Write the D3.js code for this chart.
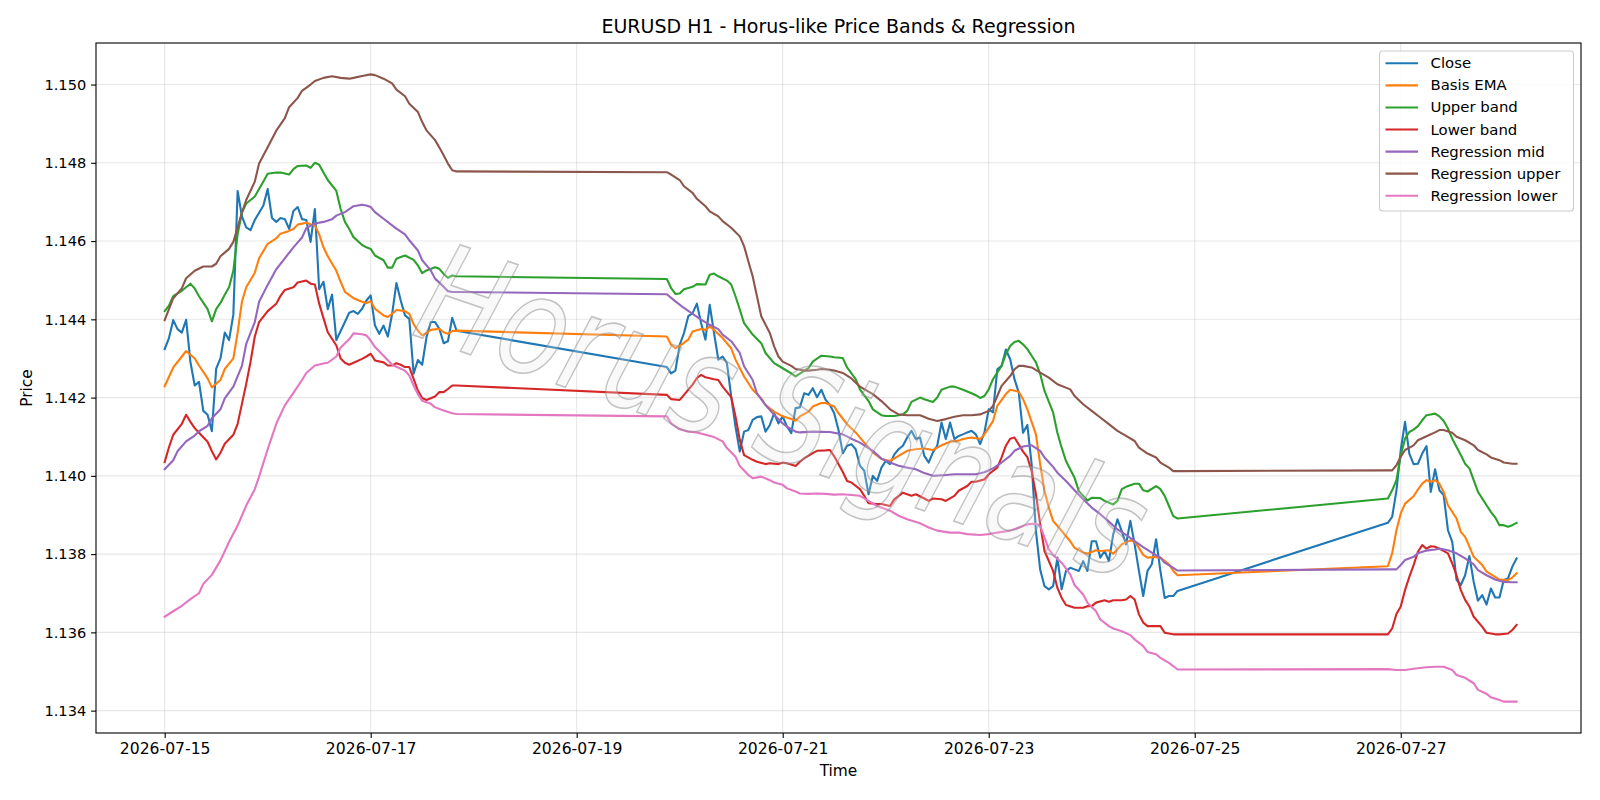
<!DOCTYPE html>
<html><head><meta charset="utf-8">
<script src="https://cdn.jsdelivr.net/npm/d3@7"></script>
<style>
body{margin:0;background:#fff}
svg{display:block}
text{font-family:"DejaVu Sans",sans-serif;fill:#000}
</style>
</head><body>
<svg id="chart" width="1600" height="800"></svg>
<script>
// ---------------- DATA ----------------
const startTime = "2026-07-15T00:00:00Z";   // hour 0 of every series
const titleText = "EURUSD H1 - Horus-like Price Bands & Regression";
const xLabelText = "Time";
const yLabelText = "Price";
const watermarkText = "Horus Signals";
const xTickDates = ["2026-07-15","2026-07-17","2026-07-19","2026-07-21","2026-07-23","2026-07-25","2026-07-27"];
const yTickValues = [1.134,1.136,1.138,1.140,1.142,1.144,1.146,1.148,1.150];
const seriesNames = ["Close","Basis EMA","Upper band","Lower band","Regression mid","Regression upper","Regression lower"];

// [hour since start, price]
const closeData = [[0,1.14324],[1,1.14352],[2,1.14398],[3,1.14375],[4,1.14366],[5,1.14399],[6,1.14291],[7,1.14231],[8,1.14240],[9,1.14166],[10,1.14156],[11,1.14114],[12,1.14274],[13,1.14300],[14,1.14366],[15,1.14347],[16,1.14412],[17,1.14728],[18,1.14663],[19,1.14635],[20,1.14628],[21,1.14654],[23,1.14691],[24,1.14733],[25,1.14659],[26,1.14649],[27,1.14659],[28,1.14656],[29,1.14631],[30,1.14677],[31,1.14687],[32,1.14656],[33,1.14654],[34,1.14598],[35,1.14682],[36,1.14477],[37,1.14496],[38,1.14426],[39,1.14463],[40,1.14347],[41,1.14370],[42,1.14393],[43,1.14417],[44,1.14421],[45,1.14414],[46,1.14427],[47,1.14448],[48,1.14461],[49,1.14384],[50,1.14363],[51,1.14384],[52,1.14356],[53,1.14414],[54,1.14493],[55,1.14448],[56,1.14410],[57,1.14401],[58,1.14261],[59,1.14296],[60,1.14284],[61,1.14354],[62,1.14393],[63,1.14393],[64,1.14376],[65,1.14339],[66,1.14344],[67,1.14404],[68,1.14371],
[117,1.14278],[118,1.14262],[119,1.14269],[120,1.14335],[121,1.14365],[122,1.14408],[123,1.14416],[124,1.14440],[125,1.14390],[126,1.14348],[127,1.14437],[128,1.14365],[129,1.14297],[130,1.14305],[131,1.14288],[132,1.14203],[133,1.14126],[134,1.14062],[135,1.14113],[136,1.14117],[137,1.14143],[138,1.14150],[139,1.14152],[140,1.14113],[141,1.14130],[142,1.14160],[143,1.14134],[144,1.14152],[145,1.14126],[146,1.14109],[147,1.14173],[148,1.14175],[149,1.14211],[150,1.14207],[151,1.14224],[152,1.14201],[153,1.14220],[154,1.14194],[155,1.14181],[156,1.14160],[157,1.14117],[158,1.14058],[159,1.14077],[160,1.14081],[161,1.14068],[162,1.14026],[163,1.14013],[164,1.13953],[165,1.14000],[166,1.13987],[167,1.14021],[168,1.14038],[169,1.14030],[170,1.14055],[171,1.14068],[172,1.14077],[173,1.14098],[174,1.14115],[175,1.14094],[176,1.14098],[177,1.14051],[178,1.14034],[179,1.14060],[180,1.14077],[181,1.14136],[182,1.14094],[183,1.14136],[184,1.14094],[185,1.14102],[186,1.14106],[187,1.14111],[188,1.14115],[189,1.14106],[190,1.14081],[191,1.14111],[192,1.14170],[193,1.14162],[194,1.14272],[195,1.14281],[196,1.14323],[197,1.14298],[198,1.14247],[199,1.14213],[200,1.14110],[201,1.14130],[202,1.14030],[203,1.13859],[204,1.13760],[205,1.13718],[206,1.13710],[207,1.13718],[208,1.13791],[209,1.13710],[210,1.13757],[211,1.13765],[212,1.13761],[213,1.13757],[214,1.13782],[215,1.13757],[216,1.13833],[217,1.13833],[218,1.13791],[219,1.13808],[220,1.13782],[221,1.13850],[222,1.13889],[223,1.13859],[224,1.13825],[225,1.13885],[226,1.13825],[227,1.13757],[228,1.13693],[229,1.13757],[230,1.13774],[231,1.13838],[232,1.13757],[233,1.13688],[234,1.13693],[235,1.13693],[236,1.13706],
[285,1.13880],[286,1.13895],[287,1.13963],[288,1.14066],[289,1.14138],[290,1.14057],[291,1.14030],[292,1.14031],[293,1.14057],[294,1.14076],[295,1.13959],[296,1.14017],[297,1.13963],[298,1.13951],[299,1.13861],[300,1.13831],[301,1.13734],[302,1.13721],[303,1.13746],[304,1.13795],[305,1.13729],[306,1.13681],[307,1.13695],[308,1.13671],[309,1.13712],[310,1.13689],[311,1.13689],[312,1.13734],[313,1.13738],[314,1.13768],[315,1.13789]];

const basisData = [[0,1.14229],[2,1.14277],[4,1.14305],[5,1.14319],[7,1.14300],[8,1.14282],[10,1.14249],[11,1.14226],[13,1.14245],[14,1.14273],[16,1.14300],[17,1.14366],[18,1.14445],[19,1.14482],[21,1.14519],[22,1.14556],[24,1.14593],[26,1.14607],[27,1.14619],[29,1.14626],[30,1.14631],[31,1.14642],[33,1.14647],[34,1.14643],[35,1.14640],[36,1.14617],[37,1.14584],[38,1.14561],[40,1.14524],[41,1.14496],[42,1.14470],[44,1.14454],[46,1.14445],[47,1.14442],[48,1.14446],[49,1.14427],[51,1.14410],[52,1.14406],[53,1.14414],[54,1.14424],[56,1.14421],[57,1.14414],[58,1.14388],[59,1.14371],[60,1.14359],[61,1.14365],[62,1.14373],[64,1.14376],[65,1.14367],[66,1.14363],[67,1.14370],[68,1.14371],
[117,1.14356],[118,1.14335],[119,1.14326],[120,1.14332],[122,1.14348],[123,1.14369],[125,1.14375],[126,1.14373],[127,1.14382],[128,1.14373],[130,1.14352],[132,1.14326],[133,1.14297],[135,1.14254],[137,1.14220],[139,1.14198],[140,1.14181],[142,1.14164],[144,1.14152],[146,1.14145],[147,1.14141],[148,1.14152],[150,1.14164],[151,1.14177],[153,1.14186],[154,1.14186],[156,1.14177],[157,1.14160],[159,1.14132],[161,1.14111],[163,1.14085],[165,1.14060],[167,1.14043],[169,1.14038],[171,1.14051],[173,1.14064],[175,1.14068],[177,1.14070],[179,1.14066],[181,1.14078],[183,1.14087],[185,1.14090],[186,1.14094],[188,1.14098],[190,1.14094],[191,1.14106],[193,1.14140],[194,1.14179],[196,1.14209],[197,1.14220],[199,1.14215],[200,1.14196],[201,1.14170],[203,1.14106],[204,1.14029],[205,1.13961],[206,1.13919],[207,1.13885],[209,1.13859],[211,1.13833],[212,1.13816],[214,1.13804],[215,1.13801],[217,1.13810],[218,1.13808],[220,1.13810],[221,1.13801],[222,1.13812],[223,1.13825],[225,1.13835],[226,1.13832],[227,1.13816],[228,1.13798],[229,1.13791],[231,1.13793],[232,1.13791],[234,1.13774],[235,1.13757],[236,1.13746],
[285,1.13769],[286,1.13802],[287,1.13861],[288,1.13904],[289,1.13929],[291,1.13948],[292,1.13965],[293,1.13980],[294,1.13989],[295,1.13985],[296,1.13989],[297,1.13980],[298,1.13959],[299,1.13925],[301,1.13891],[302,1.13857],[303,1.13844],[304,1.13819],[305,1.13793],[307,1.13772],[308,1.13755],[310,1.13742],[311,1.13735],[313,1.13734],[314,1.13740],[315,1.13751]];

const upperData = [[0,1.14421],[1,1.14435],[2,1.14459],[4,1.14473],[5,1.14482],[6,1.14491],[7,1.14479],[8,1.14459],[10,1.14426],[11,1.14395],[12,1.14426],[13,1.14442],[14,1.14463],[15,1.14482],[16,1.14524],[17,1.14617],[18,1.14673],[19,1.14696],[21,1.14714],[22,1.14733],[23,1.14752],[24,1.14772],[26,1.14775],[27,1.14775],[29,1.14770],[30,1.14784],[31,1.14792],[33,1.14793],[34,1.14787],[35,1.14800],[36,1.14795],[37,1.14775],[38,1.14756],[40,1.14728],[41,1.14682],[42,1.14649],[43,1.14631],[44,1.14610],[46,1.14590],[47,1.14584],[48,1.14580],[49,1.14563],[51,1.14551],[52,1.14532],[53,1.14532],[54,1.14555],[55,1.14559],[56,1.14563],[58,1.14552],[59,1.14538],[60,1.14518],[61,1.14525],[63,1.14533],[64,1.14529],[65,1.14516],[66,1.14506],[67,1.14512],[68,1.14510],
[117,1.14503],[118,1.14480],[119,1.14465],[120,1.14466],[121,1.14477],[123,1.14483],[124,1.14490],[126,1.14489],[127,1.14514],[128,1.14517],[129,1.14510],[131,1.14499],[132,1.14489],[133,1.14459],[134,1.14425],[135,1.14390],[137,1.14361],[139,1.14339],[140,1.14314],[142,1.14288],[144,1.14275],[146,1.14262],[147,1.14254],[148,1.14261],[150,1.14275],[151,1.14292],[153,1.14307],[155,1.14305],[156,1.14303],[158,1.14301],[159,1.14277],[161,1.14247],[162,1.14221],[164,1.14191],[165,1.14170],[167,1.14155],[168,1.14153],[170,1.14153],[172,1.14157],[173,1.14166],[174,1.14189],[176,1.14200],[177,1.14196],[179,1.14189],[180,1.14200],[181,1.14220],[183,1.14228],[184,1.14228],[186,1.14220],[188,1.14211],[189,1.14206],[190,1.14199],[191,1.14204],[192,1.14221],[193,1.14247],[195,1.14281],[196,1.14311],[197,1.14332],[198,1.14342],[199,1.14345],[200,1.14336],[201,1.14324],[202,1.14307],[203,1.14290],[204,1.14260],[205,1.14217],[207,1.14162],[208,1.14110],[209,1.14072],[210,1.14038],[212,1.13995],[213,1.13961],[215,1.13937],[216,1.13944],[218,1.13943],[219,1.13936],[221,1.13927],[222,1.13936],[223,1.13966],[224,1.13972],[226,1.13980],[227,1.13980],[228,1.13963],[229,1.13960],[231,1.13974],[232,1.13966],[233,1.13949],[234,1.13923],[235,1.13897],[236,1.13891],
[285,1.13942],[286,1.13963],[287,1.13989],[288,1.14053],[289,1.14095],[290,1.14112],[291,1.14118],[292,1.14127],[293,1.14142],[294,1.14155],[295,1.14157],[296,1.14159],[297,1.14152],[298,1.14140],[299,1.14121],[300,1.14095],[302,1.14053],[303,1.14031],[304,1.14019],[305,1.13989],[306,1.13959],[308,1.13925],[309,1.13908],[310,1.13894],[311,1.13874],[312,1.13874],[313,1.13870],[314,1.13874],[315,1.13880]];

const lowerData = [[0,1.14035],[1,1.14073],[2,1.14105],[4,1.14133],[5,1.14156],[6,1.14138],[7,1.14122],[8,1.14110],[10,1.14087],[11,1.14063],[12,1.14042],[13,1.14059],[14,1.14082],[16,1.14105],[17,1.14133],[18,1.14184],[19,1.14235],[20,1.14291],[21,1.14356],[22,1.14393],[24,1.14421],[26,1.14440],[27,1.14460],[28,1.14475],[30,1.14482],[31,1.14494],[33,1.14499],[34,1.14491],[35,1.14489],[36,1.14440],[37,1.14403],[38,1.14367],[40,1.14333],[41,1.14300],[42,1.14289],[43,1.14284],[44,1.14289],[46,1.14299],[47,1.14305],[48,1.14312],[49,1.14295],[51,1.14290],[52,1.14282],[53,1.14282],[54,1.14288],[55,1.14284],[56,1.14278],[57,1.14278],[58,1.14248],[59,1.14218],[60,1.14199],[61,1.14194],[63,1.14203],[64,1.14214],[65,1.14214],[66,1.14222],[67,1.14231],[68,1.14231],
[117,1.14207],[118,1.14196],[120,1.14194],[121,1.14207],[123,1.14233],[124,1.14250],[125,1.14258],[126,1.14252],[128,1.14247],[129,1.14245],[130,1.14228],[132,1.14201],[133,1.14152],[134,1.14092],[135,1.14053],[137,1.14041],[138,1.14036],[140,1.14030],[141,1.14032],[143,1.14030],[144,1.14034],[145,1.14032],[147,1.14025],[148,1.14036],[149,1.14045],[151,1.14058],[152,1.14064],[154,1.14065],[155,1.14066],[156,1.14050],[158,1.14010],[159,1.13987],[160,1.13983],[162,1.13966],[163,1.13949],[164,1.13930],[166,1.13928],[167,1.13928],[169,1.13923],[170,1.13940],[172,1.13957],[174,1.13949],[175,1.13953],[177,1.13942],[178,1.13936],[179,1.13942],[181,1.13940],[182,1.13936],[184,1.13949],[185,1.13962],[187,1.13974],[188,1.13985],[189,1.13985],[191,1.13991],[192,1.14004],[194,1.14021],[195,1.14047],[196,1.14077],[197,1.14095],[198,1.14098],[199,1.14080],[200,1.14062],[201,1.14048],[202,1.14012],[203,1.13953],[204,1.13876],[205,1.13808],[207,1.13757],[208,1.13714],[209,1.13688],[210,1.13670],[212,1.13663],[214,1.13663],[215,1.13667],[216,1.13667],[217,1.13676],[219,1.13682],[220,1.13678],[221,1.13682],[223,1.13682],[224,1.13684],[225,1.13693],[226,1.13684],[227,1.13646],[228,1.13625],[229,1.13616],[231,1.13616],[232,1.13616],[233,1.13599],[235,1.13595],[236,1.13595],
[285,1.13595],[286,1.13610],[287,1.13647],[288,1.13666],[289,1.13708],[290,1.13742],[291,1.13772],[292,1.13806],[293,1.13823],[294,1.13814],[295,1.13820],[296,1.13819],[297,1.13814],[299,1.13802],[300,1.13776],[301,1.13746],[302,1.13708],[303,1.13683],[304,1.13666],[305,1.13640],[307,1.13614],[308,1.13599],[310,1.13595],[311,1.13595],[313,1.13597],[314,1.13606],[315,1.13619]];

const regMidData = [[0,1.14017],[2,1.14040],[3,1.14063],[5,1.14088],[7,1.14103],[8,1.14114],[10,1.14128],[11,1.14147],[13,1.14170],[14,1.14198],[16,1.14228],[18,1.14281],[19,1.14337],[21,1.14393],[22,1.14445],[24,1.14488],[26,1.14528],[28,1.14556],[30,1.14584],[32,1.14609],[33,1.14633],[35,1.14645],[37,1.14649],[39,1.14656],[40,1.14665],[42,1.14674],[44,1.14689],[46,1.14693],[47,1.14691],[48,1.14687],[49,1.14674],[51,1.14657],[53,1.14640],[54,1.14632],[56,1.14617],[57,1.14602],[59,1.14576],[60,1.14551],[62,1.14525],[63,1.14504],[65,1.14483],[66,1.14472],[67,1.14470],[68,1.14470],
[117,1.14464],[119,1.14446],[121,1.14429],[123,1.14414],[125,1.14399],[127,1.14386],[129,1.14375],[130,1.14361],[132,1.14344],[134,1.14314],[135,1.14280],[137,1.14245],[138,1.14211],[140,1.14181],[142,1.14156],[144,1.14134],[145,1.14126],[147,1.14113],[148,1.14111],[151,1.14113],[155,1.14112],[158,1.14106],[160,1.14095],[162,1.14085],[165,1.14064],[167,1.14044],[169,1.14034],[171,1.14026],[173,1.14021],[175,1.14017],[177,1.14007],[179,1.14000],[182,1.14002],[184,1.14004],[186,1.14004],[189,1.14004],[191,1.14009],[193,1.14019],[195,1.14034],[197,1.14051],[198,1.14064],[200,1.14075],[202,1.14078],[204,1.14064],[205,1.14047],[207,1.14023],[208,1.14008],[210,1.13987],[212,1.13963],[214,1.13940],[216,1.13919],[218,1.13902],[220,1.13883],[222,1.13863],[224,1.13849],[226,1.13833],[228,1.13818],[230,1.13804],[232,1.13791],[233,1.13778],[235,1.13765],[236,1.13758],
[285,1.13761],[287,1.13761],[288,1.13772],[289,1.13785],[291,1.13793],[292,1.13802],[294,1.13809],[296,1.13812],[297,1.13814],[299,1.13810],[301,1.13802],[303,1.13789],[305,1.13774],[306,1.13759],[308,1.13746],[310,1.13735],[312,1.13729],[314,1.13728],[315,1.13728]];

const regUpperData = [[0,1.14398],[1,1.14426],[2,1.14454],[4,1.14479],[5,1.14505],[7,1.14524],[9,1.14535],[11,1.14535],[12,1.14542],[13,1.14561],[15,1.14580],[16,1.14598],[17,1.14635],[18,1.14673],[19,1.14705],[21,1.14752],[22,1.14798],[24,1.14840],[26,1.14882],[28,1.14914],[29,1.14942],[31,1.14966],[32,1.14984],[34,1.15000],[35,1.15009],[37,1.15017],[39,1.15021],[41,1.15017],[43,1.15015],[44,1.15017],[46,1.15022],[48,1.15026],[49,1.15024],[51,1.15015],[53,1.15003],[54,1.14987],[56,1.14970],[57,1.14951],[59,1.14930],[60,1.14904],[61,1.14883],[63,1.14858],[64,1.14839],[65,1.14819],[66,1.14798],[67,1.14781],[68,1.14778],
[117,1.14776],[118,1.14770],[120,1.14756],[121,1.14740],[123,1.14723],[124,1.14708],[126,1.14689],[127,1.14676],[129,1.14663],[130,1.14651],[132,1.14634],[134,1.14612],[135,1.14587],[136,1.14548],[137,1.14510],[138,1.14459],[139,1.14408],[141,1.14365],[142,1.14331],[143,1.14305],[144,1.14292],[146,1.14281],[147,1.14273],[149,1.14269],[150,1.14269],[152,1.14271],[153,1.14273],[155,1.14271],[156,1.14269],[158,1.14263],[160,1.14249],[162,1.14228],[165,1.14209],[167,1.14191],[169,1.14170],[171,1.14157],[173,1.14155],[176,1.14155],[178,1.14146],[180,1.14140],[182,1.14145],[184,1.14151],[186,1.14155],[188,1.14155],[190,1.14157],[192,1.14166],[193,1.14179],[194,1.14204],[195,1.14230],[197,1.14255],[198,1.14272],[199,1.14281],[200,1.14281],[202,1.14277],[204,1.14264],[206,1.14251],[208,1.14234],[211,1.14221],[212,1.14204],[214,1.14183],[216,1.14166],[218,1.14149],[220,1.14132],[222,1.14115],[224,1.14102],[226,1.14089],[227,1.14072],[229,1.14057],[231,1.14047],[232,1.14034],[234,1.14021],[235,1.14012],[236,1.14012],
[285,1.14014],[286,1.14014],[287,1.14027],[288,1.14049],[289,1.14066],[291,1.14078],[292,1.14091],[294,1.14101],[296,1.14111],[297,1.14117],[298,1.14117],[300,1.14110],[301,1.14100],[303,1.14091],[305,1.14078],[306,1.14066],[308,1.14055],[309,1.14047],[311,1.14040],[312,1.14034],[314,1.14031],[315,1.14031]];

const regLowerData = [[0,1.13640],[2,1.13654],[4,1.13668],[6,1.13685],[8,1.13700],[9,1.13724],[11,1.13747],[13,1.13784],[15,1.13831],[17,1.13873],[19,1.13924],[21,1.13966],[22,1.13998],[24,1.14068],[26,1.14133],[28,1.14180],[30,1.14212],[32,1.14245],[33,1.14263],[35,1.14282],[37,1.14287],[38,1.14289],[40,1.14305],[41,1.14328],[43,1.14349],[44,1.14364],[46,1.14362],[47,1.14359],[48,1.14346],[49,1.14329],[51,1.14307],[53,1.14284],[54,1.14279],[56,1.14269],[57,1.14256],[58,1.14231],[59,1.14209],[60,1.14192],[62,1.14184],[63,1.14175],[65,1.14167],[67,1.14160],[68,1.14158],
[117,1.14152],[118,1.14134],[120,1.14119],[122,1.14113],[124,1.14111],[126,1.14105],[128,1.14099],[130,1.14088],[131,1.14071],[133,1.14049],[134,1.14025],[136,1.14002],[137,1.13994],[139,1.13998],[141,1.13989],[142,1.13983],[144,1.13977],[145,1.13968],[147,1.13960],[148,1.13955],[150,1.13954],[152,1.13955],[154,1.13954],[156,1.13952],[158,1.13953],[160,1.13951],[162,1.13949],[164,1.13936],[166,1.13923],[169,1.13911],[171,1.13898],[173,1.13889],[176,1.13879],[178,1.13868],[180,1.13860],[183,1.13855],[185,1.13855],[187,1.13851],[190,1.13849],[192,1.13851],[194,1.13855],[197,1.13860],[199,1.13868],[201,1.13876],[203,1.13878],[204,1.13872],[205,1.13842],[206,1.13812],[207,1.13798],[209,1.13778],[211,1.13748],[212,1.13721],[214,1.13697],[215,1.13676],[217,1.13654],[218,1.13633],[220,1.13616],[221,1.13610],[223,1.13603],[225,1.13593],[226,1.13582],[228,1.13565],[229,1.13550],[231,1.13544],[232,1.13535],[234,1.13522],[235,1.13514],[236,1.13505],
[285,1.13506],[287,1.13504],[289,1.13504],[291,1.13507],[294,1.13511],[296,1.13512],[298,1.13512],[300,1.13504],[301,1.13491],[303,1.13484],[305,1.13470],[306,1.13453],[308,1.13443],[309,1.13434],[311,1.13427],[312,1.13423],[314,1.13423],[315,1.13423]];

const seriesData = [closeData, basisData, upperData, lowerData, regMidData, regUpperData, regLowerData];
const seriesColors = ["#1f77b4","#ff7f0e","#2ca02c","#d62728","#9467bd","#8c564b","#e377c2"];

// ---------------- LAYOUT ----------------
const W = 1600, H = 800;
const plot = {left: 96, top: 43, right: 1581, bottom: 733};
const t0 = new Date(startTime);
const toTime = h => d3.utcHour.offset(t0, h);

const svg = d3.select("#chart");
svg.append("rect").attr("width", W).attr("height", H).attr("fill", "#fff");

// matplotlib-style 5% margins
const allH = seriesData.flat().map(d => d[0]);
const allV = seriesData.flat().map(d => d[1]);
const hExt = d3.extent(allH), vExt = d3.extent(allV);
const hPad = (hExt[1] - hExt[0]) * 0.05, vPad = (vExt[1] - vExt[0]) * 0.05;
const x = d3.scaleUtc().domain([toTime(hExt[0] - hPad), toTime(hExt[1] + hPad)]).range([plot.left, plot.right]);
const y = d3.scaleLinear().domain([vExt[0] - vPad, vExt[1] + vPad]).range([plot.bottom, plot.top]);

const xTicks = xTickDates.map(s => new Date(s + "T00:00:00Z"));

// grid
const grid = svg.append("g");
grid.selectAll(".gx").data(xTicks).join("line")
  .attr("x1", d => x(d)).attr("x2", d => x(d)).attr("y1", plot.top).attr("y2", plot.bottom)
  .attr("stroke", "#b0b0b0").attr("stroke-opacity", 0.3).attr("stroke-width", 1.1);
grid.selectAll(".gy").data(yTickValues).join("line")
  .attr("x1", plot.left).attr("x2", plot.right).attr("y1", d => y(d)).attr("y2", d => y(d))
  .attr("stroke", "#b0b0b0").attr("stroke-opacity", 0.3).attr("stroke-width", 1.1);

// lines
svg.append("defs").append("clipPath").attr("id", "clip").append("rect")
  .attr("x", plot.left).attr("y", plot.top).attr("width", plot.right - plot.left).attr("height", plot.bottom - plot.top);
const line = d3.line().x(d => x(toTime(d[0]))).y(d => y(d[1]));
const lines = svg.append("g").attr("clip-path", "url(#clip)");
seriesData.forEach((data, i) => {
  lines.append("path").attr("d", line(data)).attr("fill", "none")
    .attr("stroke", seriesColors[i]).attr("stroke-width", 2.1)
    .attr("stroke-linejoin", "round").attr("stroke-linecap", "square");
});

// watermark
svg.append("text").text(watermarkText)
  .attr("transform", "translate(783,412) rotate(19)")
  .attr("text-anchor", "middle").attr("dominant-baseline", "central")
  .attr("textLength", 757).attr("lengthAdjust", "spacingAndGlyphs")
  .style("font-size", "138px").style("font-style", "italic")
  .style("fill", "#e6e6e6").style("fill-opacity", 0.25)
  .style("stroke", "#8a8a8a").style("stroke-opacity", 0.5).style("stroke-width", 1.6);

// axes frame
svg.append("rect").attr("x", plot.left).attr("y", plot.top)
  .attr("width", plot.right - plot.left).attr("height", plot.bottom - plot.top)
  .attr("fill", "none").attr("stroke", "#000").attr("stroke-width", 1.1);

// x axis
const xAxis = d3.axisBottom(x).tickValues(xTicks).tickFormat(d3.utcFormat("%Y-%m-%d")).tickSize(4.9).tickPadding(4.9);
const gx = svg.append("g").attr("transform", `translate(0,${plot.bottom})`).call(xAxis);
gx.select(".domain").remove();
gx.selectAll("line").attr("stroke", "#000").attr("stroke-width", 1.1);
gx.selectAll("text").style("font-size", "15.6px").style("font-family", "DejaVu Sans").attr("fill", "#000");

// y axis
const yAxis = d3.axisLeft(y).tickValues(yTickValues).tickFormat(d3.format(".3f")).tickSize(4.9).tickPadding(4.9);
const gy = svg.append("g").attr("transform", `translate(${plot.left},0)`).call(yAxis);
gy.select(".domain").remove();
gy.selectAll("line").attr("stroke", "#000").attr("stroke-width", 1.1);
gy.selectAll("text").style("font-size", "14.6px").style("font-family", "DejaVu Sans").attr("fill", "#000");

// labels
svg.append("text").text(titleText).attr("x", (plot.left + plot.right) / 2).attr("y", 26)
  .attr("text-anchor", "middle").attr("dominant-baseline", "central").style("font-size", "19px");
svg.append("text").text(xLabelText).attr("x", (plot.left + plot.right) / 2).attr("y", 771)
  .attr("text-anchor", "middle").attr("dominant-baseline", "central").style("font-size", "15.4px");
svg.append("text").text(yLabelText).attr("transform", `translate(27,${(plot.top + plot.bottom) / 2}) rotate(-90)`)
  .attr("text-anchor", "middle").attr("dominant-baseline", "central").style("font-size", "15.4px");

// legend
const leg = {x: 1379.5, y: 51, w: 194, h: 160, row: 22.07, first: 63.3};
const lg = svg.append("g");
lg.append("rect").attr("x", leg.x).attr("y", leg.y).attr("width", leg.w).attr("height", leg.h)
  .attr("rx", 3).attr("fill", "#fff").attr("fill-opacity", 0.8).attr("stroke", "#cccccc").attr("stroke-width", 1.1);
seriesNames.forEach((name, i) => {
  const cy = leg.first + i * leg.row;
  lg.append("line").attr("x1", leg.x + 6).attr("x2", leg.x + 38.5).attr("y1", cy).attr("y2", cy)
    .attr("stroke", seriesColors[i]).attr("stroke-width", 2.1);
  lg.append("text").text(name).attr("x", leg.x + 51).attr("y", cy)
    .attr("dominant-baseline", "central").style("font-size", "14.9px");
});
</script>
</body></html>
